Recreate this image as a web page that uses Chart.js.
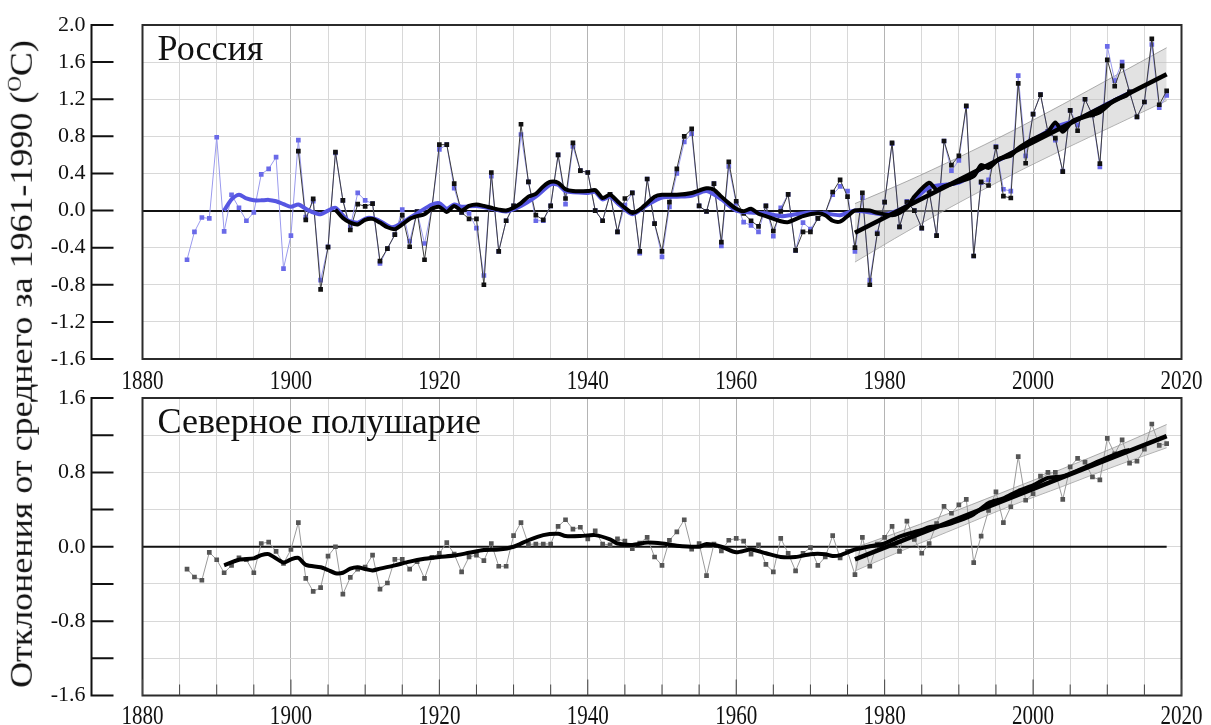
<!DOCTYPE html>
<html>
<head>
<meta charset="utf-8">
<script src="https://cdn.jsdelivr.net/npm/chart.js@4.4.1/dist/chart.umd.min.js"></script>
<style>
  html, body { margin: 0; padding: 0; background: #fff; }
  #wrap { position: relative; width: 1211px; height: 725px; overflow: hidden; }
  .panel { position: absolute; left: 0; width: 1211px; }
  #ytitle {
    position: absolute; left: 22px; top: 364px;
    transform: translate(-50%, -50%) rotate(-90deg) scale(1.16, 1);
    white-space: nowrap; font: 31px "Liberation Serif", serif; color: #111;
  }
  #ytitle sup { font-size: 0.6em; }
</style>
</head>
<body>
<div id="wrap">
  <div class="panel" style="top:0;height:400px"><canvas id="c1"></canvas></div>
  <div class="panel" style="top:380px;height:345px"><canvas id="c2"></canvas></div>
  <div id="ytitle">Отклонения от среднего за 1961-1990 (<sup>O</sup>C)</div>
</div>
<script>
// ---- data ----
const xTicks = [1880, 1900, 1920, 1940, 1960, 1980, 2000, 2020];

// Russia, blue series, 1886..2018
const ruBlueStart = 1886;
const ruBlue = [
  -0.53, -0.23, -0.075, -0.085,                               // 1886-1889
  0.79, -0.225, 0.17, 0.03, -0.11, -0.02, 0.39, 0.45, 0.575, -0.625, // 1890s
  -0.27, 0.76, -0.07, 0.10, -0.75, -0.39, 0.62, 0.11, -0.175, 0.19,  // 1900s
  0.11, 0.075, -0.57, -0.41, -0.26, 0.01, -0.33, -0.01, -0.355, 0.03, // 1910s
  0.66, 0.71, 0.24, -0.02, -0.03, -0.19, -0.70, 0.37, -0.44, -0.11,  // 1920s
  0.05, 0.82, 0.31, -0.11, -0.11, 0.05, 0.60, 0.07, 0.69, 0.43,      // 1930s
  0.41, 0.0, -0.11, 0.175, -0.23, 0.06, 0.19, -0.46, 0.34, -0.14,    // 1940s
  -0.50, 0.04, 0.40, 0.74, 0.83, 0.05, -0.01, 0.29, -0.38, 0.475,    // 1950s
  0.08, -0.125, -0.16, -0.23, 0.05, -0.275, 0.03, 0.175, -0.43, -0.13, // 1960s
  -0.20, -0.085, -0.025, 0.17, 0.26, 0.21, -0.44, 0.14, -0.75, -0.24,  // 1970s
  0.09, 0.72, -0.175, 0.10, 0.0, -0.19, 0.21, -0.27, 0.75, 0.43,     // 1980s
  0.54, 1.12, -0.49, 0.30, 0.33, 0.69, 0.23, 0.21, 1.455, 0.59,      // 1990s
  1.04, 1.25, 0.85, 0.76, 0.425, 1.08, 0.92, 1.20, 1.03, 0.47,       // 2000s
  1.77, 1.40, 1.60, 1.28, 1.01, 1.17, 1.79, 1.11, 1.24               // 2010-2018
];

// Russia, black series, 1901..2018
const ruBlackStart = 1901;
const ruBlack = [
  0.64, -0.10, 0.125, -0.85, -0.395, 0.63, 0.11, -0.21, 0.07,        // 1901-1909
  0.045, 0.075, -0.545, -0.41, -0.26, -0.05, -0.39, -0.01, -0.53, 0.03, // 1910s
  0.71, 0.71, 0.29, -0.02, -0.09, -0.09, -0.80, 0.41, -0.44, -0.11,  // 1920s
  0.05, 0.93, 0.31, -0.05, -0.10, 0.05, 0.60, 0.13, 0.73, 0.43,      // 1930s
  0.41, 0.0, -0.11, 0.175, -0.23, 0.13, 0.19, -0.44, 0.34, -0.14,    // 1940s
  -0.44, 0.09, 0.45, 0.80, 0.88, 0.05, -0.01, 0.29, -0.34, 0.525,    // 1950s
  0.10, -0.03, -0.11, -0.17, 0.05, -0.22, -0.01, 0.175, -0.43, -0.23, // 1960s
  -0.23, -0.085, -0.025, 0.20, 0.33, 0.15, -0.40, 0.19, -0.80, -0.25, // 1970s
  0.09, 0.73, -0.175, 0.09, 0.0, -0.19, 0.21, -0.27, 0.75, 0.49,     // 1980s
  0.59, 1.13, -0.49, 0.31, 0.27, 0.685, 0.155, 0.135, 1.37, 0.51,    // 1990s
  1.04, 1.25, 0.85, 0.78, 0.42, 1.08, 0.86, 1.20, 1.03, 0.505,       // 2000s
  1.625, 1.34, 1.56, 1.28, 1.01, 1.17, 1.85, 1.14, 1.29              // 2010-2018
];

// Russia, smoothed curves
const ruBlueSmoothYears = [1891, 1892, 1893, 1894, 1895, 1896, 1897, 1898, 1899, 1900, 1901, 1902, 1903, 1904, 1905, 1906,
  1907.6, 1909, 1910.3, 1911.7, 1913.6, 1915.4, 1917.2, 1919, 1920, 1921, 1922, 1923, 1925, 1927, 1929, 1931, 1933,
  1935, 1936, 1937, 1940, 1941, 1942, 1943, 1944, 1946, 1948, 1950, 1952, 1954, 1956, 1958, 1960, 1962, 1964, 1966,
  1968, 1970, 1972, 1974, 1976, 1980, 1983, 1986, 1990, 1993, 1996, 2000, 2003, 2006, 2010, 2013];
const ruBlueSmooth = [0.0, 0.12, 0.17, 0.13, 0.11, 0.11, 0.115, 0.10, 0.07, 0.04, 0.065, 0.02, -0.02, -0.04, 0.0, 0.03,
  -0.10, -0.13, -0.08, -0.10, -0.18, -0.11, -0.02, 0.065, 0.08, 0.02, 0.065, 0.04, 0.05, 0.02, -0.01, 0.05, 0.15,
  0.28, 0.28, 0.21, 0.19, 0.20, 0.12, 0.15, 0.08, -0.04, 0.06, 0.14, 0.15, 0.16, 0.21, 0.12, 0.0, -0.02, -0.03, -0.06,
  -0.04, -0.02, -0.03, -0.05, 0.0, -0.04, 0.05, 0.25, 0.30, 0.45, 0.57, 0.76, 0.90, 0.98, 1.15, 1.27];

const ruBlackSmoothYears = [1906, 1907, 1908, 1909, 1910, 1911, 1912, 1913, 1914, 1915, 1916, 1917, 1918, 1919, 1920,
  1921, 1922, 1923, 1924, 1925, 1926, 1927, 1928, 1929, 1930, 1931, 1932, 1933, 1934, 1935, 1936, 1937, 1938, 1940,
  1941, 1942, 1943, 1944, 1945, 1946, 1947, 1948, 1949, 1950, 1952, 1954, 1956, 1957, 1958, 1959, 1960, 1961, 1962,
  1963, 1964, 1966, 1967, 1969, 1971, 1972, 1973, 1974, 1975, 1976, 1978, 1979, 1981, 1982, 1983, 1984, 1986, 1987,
  1988, 1990, 1992, 1993, 1994, 1995.5, 1997, 1998, 2000, 2002, 2003, 2004, 2005.4, 2007, 2009, 2011, 2012.6, 2013];
const ruBlackSmooth = [0.01, -0.08, -0.13, -0.15, -0.10, -0.09, -0.13, -0.18, -0.20, -0.15, -0.09, -0.06, -0.04, 0.02, 0.04,
  -0.015, 0.05, 0.0, 0.05, 0.065, 0.05, 0.03, 0.01, 0.0, 0.03, 0.08, 0.15, 0.18, 0.26, 0.31, 0.30, 0.23, 0.21, 0.21,
  0.22, 0.135, 0.17, 0.10, 0.03, -0.025, 0.01, 0.08, 0.15, 0.17, 0.17, 0.19, 0.24, 0.225, 0.15, 0.08, 0.02, -0.007, 0.02,
  -0.035, -0.06, -0.115, -0.125, -0.06, -0.03, -0.05, -0.11, -0.12, -0.06, 0.0, 0.0, -0.025, -0.05, -0.025, 0.03, 0.15, 0.30, 0.225,
  0.26, 0.31, 0.37, 0.49, 0.46, 0.56, 0.59, 0.67, 0.77, 0.85, 0.95, 0.85, 0.97, 1.01, 1.06, 1.19, 1.24, 1.28];

// Russia, linear trend 1976-2018 and its band
const ruTrendYears = [1976, 2018];
const ruTrend = [-0.24, 1.47];
const ruBandYears = [1976, 1983, 1990, 1997, 2004, 2011, 2018];
const ruBandUpper = [0.075, 0.315, 0.575, 0.85, 1.145, 1.45, 1.755];
const ruBandLower = [-0.555, -0.225, 0.085, 0.38, 0.655, 0.92, 1.185];

// Northern hemisphere, 1886..2018
const nhStart = 1886;
const nh = [
  -0.24, -0.325, -0.36, -0.06,                                        // 1886-1889
  -0.14, -0.28, -0.20, -0.12, -0.14, -0.28, 0.035, 0.05, -0.05, -0.18, // 1890s
  -0.03, 0.26, -0.34, -0.48, -0.44, -0.10, 0.0, -0.51, -0.33, -0.24,  // 1900s
  -0.22, -0.09, -0.455, -0.39, -0.135, -0.135, -0.24, -0.16, -0.34, -0.115, // 1910s
  -0.07, 0.045, -0.08, -0.27, -0.11, -0.09, -0.15, 0.035, -0.21, -0.21, // 1920s
  0.12, 0.26, 0.025, 0.03, 0.03, 0.03, 0.22, 0.29, 0.19, 0.21,        // 1930s
  0.085, 0.17, 0.03, 0.02, 0.085, 0.06, -0.02, 0.04, 0.10, -0.11,     // 1940s
  -0.20, 0.07, 0.16, 0.29, -0.025, 0.035, -0.31, 0.03, -0.045, 0.07,  // 1950s
  0.09, 0.06, -0.08, 0.02, -0.19, -0.27, 0.09, -0.07, -0.26, -0.07,   // 1960s
  -0.01, -0.20, -0.11, 0.12, -0.12, -0.05, -0.30, 0.10, -0.21, 0.03,  // 1970s
  0.10, 0.22, -0.05, 0.275, 0.08, -0.07, 0.035, 0.25, 0.435, 0.36,    // 1980s
  0.45, 0.51, -0.17, 0.115, 0.39, 0.59, 0.26, 0.43, 0.97, 0.50,       // 1990s
  0.57, 0.76, 0.80, 0.80, 0.51, 0.86, 0.95, 0.91, 0.75, 0.72,         // 2000s
  1.165, 1.00, 1.15, 0.90, 0.92, 1.05, 1.32, 1.09, 1.11               // 2010-2018
];

const nhSmoothYears = [1891, 1893, 1895, 1896, 1897, 1899, 1900, 1901, 1902, 1904, 1905, 1906, 1907, 1908, 1909, 1910,
  1911, 1912, 1914, 1916, 1918, 1920, 1922, 1924, 1926, 1928, 1930, 1932, 1934, 1936, 1937, 1939, 1941, 1943, 1944,
  1946, 1948, 1950, 1952, 1955, 1956, 1958, 1960, 1962, 1964, 1966, 1968, 1970, 1972, 1973, 1974, 1976, 1978, 1980,
  1982, 1985, 1986, 1988, 1990, 1992, 1994, 1996, 1998, 2000, 2002, 2004, 2006, 2008, 2010, 2012, 2013];
const nhSmooth = [-0.20, -0.14, -0.125, -0.09, -0.08, -0.17, -0.135, -0.12, -0.195, -0.22, -0.25, -0.285, -0.28, -0.235,
  -0.22, -0.24, -0.255, -0.235, -0.20, -0.16, -0.13, -0.11, -0.095, -0.065, -0.035, -0.03, 0.0, 0.07, 0.125, 0.14, 0.115,
  0.115, 0.125, 0.08, 0.035, 0.02, 0.045, 0.035, 0.01, 0.0, 0.03, 0.0, -0.06, -0.03, -0.07, -0.11, -0.11, -0.08, -0.08,
  -0.10, -0.09, -0.03, 0.005, 0.035, 0.11, 0.18, 0.21, 0.23, 0.28, 0.35, 0.47, 0.52, 0.60, 0.66, 0.74, 0.76, 0.82, 0.89,
  0.96, 1.02, 1.04];

const nhTrendYears = [1976, 2018];
const nhTrend = [-0.135, 1.19];
const nhBandYears = [1976, 1983, 1990, 1997, 2004, 2011, 2018];
const nhBandUpper = [-0.01, 0.19, 0.40, 0.62, 0.84, 1.07, 1.315];
const nhBandLower = [-0.26, -0.02, 0.21, 0.44, 0.65, 0.865, 1.065];

// reference line of the lower panel (stops short of the right edge)
const nhZeroYears = [1880, 2018];
const nhZero = [0, 0];

// ---- helpers ----
const fromStart = (start, vals) => vals.map((v, i) => ({ x: start + i, y: v }));
const pairs = (xs, ys) => xs.map((x, i) => ({ x: x, y: ys[i] }));
const isZero = v => Math.abs(v) < 1e-9;

const panelPlugin = {
  id: 'panel',
  afterDraw(chart, args, o) {
    const { ctx, chartArea: a, scales } = chart;
    const x = scales.x, y = scales.y;
    ctx.save();
    // plot frame
    ctx.strokeStyle = '#2b2b2b';
    ctx.lineWidth = 2;
    ctx.strokeRect(a.left, a.top, a.right - a.left, a.bottom - a.top);
    // detached y axis with inward ticks
    const ax = a.left - 51;
    ctx.strokeStyle = '#111';
    ctx.beginPath();
    ctx.moveTo(ax, y.getPixelForValue(y.max));
    ctx.lineTo(ax, y.getPixelForValue(y.min));
    y.ticks.forEach(t => {
      const py = y.getPixelForValue(t.value);
      ctx.moveTo(ax - 1, py);
      ctx.lineTo(ax + 22, py);
    });
    ctx.stroke();
    // small ticks along the bottom edge
    if (o.innerTicks) {
      ctx.lineWidth = 1;
      ctx.strokeStyle = '#444';
      ctx.beginPath();
      x.ticks.forEach(t => {
        const px = x.getPixelForValue(t.value);
        const len = xTicks.includes(t.value) ? 16 : 11;
        ctx.moveTo(px, a.bottom);
        ctx.lineTo(px, a.bottom - len);
      });
      ctx.stroke();
    }
    // year labels, narrow serif
    ctx.fillStyle = '#111';
    ctx.font = '27px "Liberation Serif", serif';
    ctx.textAlign = 'center';
    ctx.textBaseline = 'top';
    xTicks.forEach(v => {
      ctx.save();
      ctx.translate(x.getPixelForValue(v), a.bottom + o.labelGap);
      ctx.scale(0.78, 1);
      ctx.fillText(String(v), 0, 0);
      ctx.restore();
    });
    // panel name
    ctx.font = '36px "Liberation Serif", serif';
    ctx.textAlign = 'left';
    ctx.textBaseline = 'alphabetic';
    ctx.fillText(o.title, a.left + 15, a.top + 35);
    ctx.restore();
  }
};

function makeScales(yMin, yMax, yLabel, xHeight, zeroGrid) {
  return {
    x: {
      type: 'linear', min: 1880, max: 2020,
      afterFit: s => { s.height = xHeight; },
      border: { display: false },
      grid: {
        drawTicks: false,
        color: c => (c.tick && c.tick.value % 20 === 0) ? '#b4b4b4' : '#d8d8d8',
        lineWidth: 1
      },
      ticks: { stepSize: 5, display: false, autoSkip: false }
    },
    y: {
      min: yMin, max: yMax,
      // fixed width; drop the label padding Chart.js adds above and below
      afterFit: s => { s.width = 142.5; s.paddingTop = 0; s.paddingBottom = 0; },
      border: { display: false },
      grid: {
        drawTicks: false,
        color: c => (zeroGrid && c.tick && isZero(c.tick.value)) ? '#111' : '#d8d8d8',
        lineWidth: c => (zeroGrid && c.tick && isZero(c.tick.value)) ? 2 : 1
      },
      ticks: {
        stepSize: 0.4, autoSkip: false, padding: 57, color: '#111',
        font: { family: '"Liberation Serif", serif', size: 22 },
        callback: v => yLabel(v) ? (isZero(v) ? '0.0' : v.toFixed(1)) : ''
      }
    }
  };
}

const thin = (data, line, pt, r) => ({
  data, borderColor: line, borderWidth: 1, tension: 0,
  pointStyle: 'rect', pointRadius: r, pointBackgroundColor: pt, pointBorderColor: pt, pointBorderWidth: 0
});
const thick = (data, color, w) => ({
  data, borderColor: color, borderWidth: w, tension: 0.25, pointRadius: 0
});
const band = (data, fill) => ({
  data, borderColor: 'rgba(140,140,140,0.7)', borderWidth: 1, pointRadius: 0, tension: 0.3,
  fill: fill, backgroundColor: 'rgba(190,190,190,0.45)'
});

const common = {
  responsive: true, maintainAspectRatio: false, animation: false,
  plugins: { legend: { display: false }, tooltip: { enabled: false } }
};

Chart.defaults.font.family = '"Liberation Serif", serif';

new Chart(document.getElementById('c1'), {
  type: 'line',
  data: {
    datasets: [
      Object.assign(thick(pairs(ruTrendYears, ruTrend), '#000', 4.5), { tension: 0, order: 0 }),
      Object.assign(thick(pairs(ruBlackSmoothYears, ruBlackSmooth), '#000', 4), { order: 1 }),
      Object.assign(thick(pairs(ruBlueSmoothYears, ruBlueSmooth), '#5656e2', 4), { order: 2 }),
      Object.assign(thin(fromStart(ruBlackStart, ruBlack), '#3c3c3c', '#111', 3.3), { order: 3 }),
      Object.assign(thin(fromStart(ruBlueStart, ruBlue), '#9a9aee', '#6a6ae8', 3.3), { order: 4 }),
      Object.assign(band(pairs(ruBandYears, ruBandUpper), '+1'), { order: 5 }),
      Object.assign(band(pairs(ruBandYears, ruBandLower), false), { order: 6 })
    ]
  },
  options: Object.assign({}, common, {
    layout: { padding: { top: 25, right: 29.5, left: 0, bottom: 0 } },
    scales: makeScales(-1.6, 2.0, () => true, 41, true),
    plugins: Object.assign({}, common.plugins, { panel: { title: 'Россия', innerTicks: false, labelGap: 9 } })
  }),
  plugins: [panelPlugin]
});

new Chart(document.getElementById('c2'), {
  type: 'line',
  data: {
    datasets: [
      Object.assign(thick(pairs(nhTrendYears, nhTrend), '#000', 4.5), { tension: 0, order: 0 }),
      Object.assign(thick(pairs(nhSmoothYears, nhSmooth), '#000', 4), { order: 1 }),
      Object.assign(thin(fromStart(nhStart, nh), '#9a9a9a', '#555', 3.3), { order: 2 }),
      Object.assign(thick(pairs(nhZeroYears, nhZero), '#111', 2), { tension: 0, order: 3 }),
      Object.assign(band(pairs(nhBandYears, nhBandUpper), '+1'), { order: 4 }),
      Object.assign(band(pairs(nhBandYears, nhBandLower), false), { order: 5 })
    ]
  },
  options: Object.assign({}, common, {
    layout: { padding: { top: 18, right: 29.5, left: 0, bottom: 0 } },
    scales: makeScales(-1.6, 1.6, v => Math.abs(v / 0.8 - Math.round(v / 0.8)) < 1e-6, 29.5, false),
    plugins: Object.assign({}, common.plugins, { panel: { title: 'Северное полушарие', innerTicks: true, labelGap: 8 } })
  }),
  plugins: [panelPlugin]
});
</script>
</body>
</html>
